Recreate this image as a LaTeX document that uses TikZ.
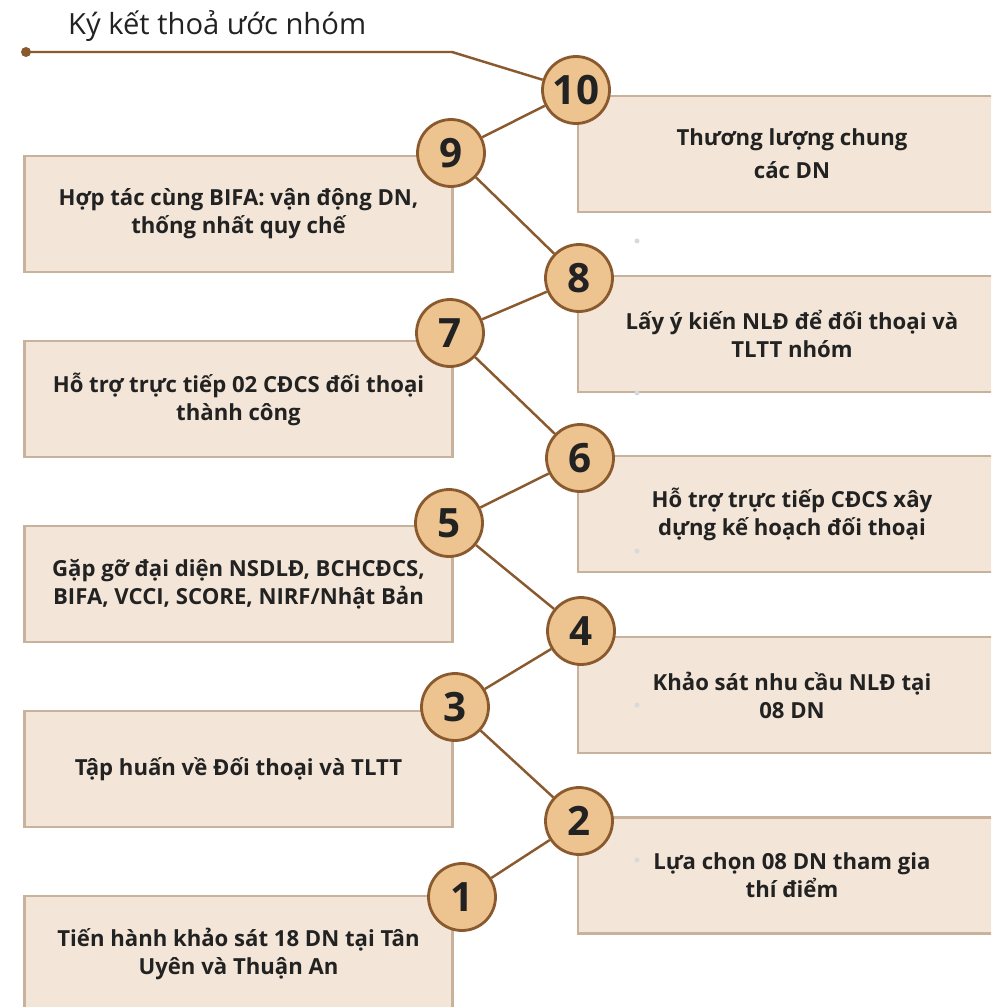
\documentclass[tikz,border=0pt]{standalone}
\usepackage{fontspec}
\setmainfont{Open Sans}
\usepackage{xcolor}
\usetikzlibrary{positioning, arrows.meta, calc}

\definecolor{boxfill}{HTML}{F3E6D8}
\definecolor{boxline}{HTML}{C9B29C}
\definecolor{stepfill}{HTML}{EDC38F}
\definecolor{brownline}{HTML}{8A5A2E}
\definecolor{textdark}{HTML}{222222}

\tikzset{
    % hộp nội dung
    box/.style={
        rectangle,
        draw=boxline,
        fill=boxfill,
        line width=1.6pt,
        minimum width=8.56cm,
        minimum height=2.32cm,
        align=center,
        text=textdark,
        font=\bfseries\fontsize{12.6}{15.9}\selectfont
    },
    % vòng tròn số thứ tự
    num/.style={
        circle,
        draw=brownline,
        fill=stepfill,
        line width=1.6pt,
        minimum size=1.34cm,
        inner sep=0pt,
        text=textdark,
        font=\bfseries\fontsize{23}{23}\selectfont
    },
    % đường nối
    link/.style={
        draw=brownline,
        line width=1.4pt
    }
}

\begin{document}
\begin{tikzpicture}[x=0.02cm, y=-0.02cm]
    \clip (0,0) rectangle (991,1007);
    \fill[white] (0,0) rectangle (991,1007);

    % Boxes
    \node[box] (b9) at (238.5,214) {Hợp tác cùng BIFA: vận động DN,\\thống nhất quy chế};
    \node[box] (b7) at (238.5,399) {Hỗ trợ trực tiếp 02 CĐCS đối thoại\\thành công};
    \node[box] (b5) at (238.5,584) {Gặp gỡ đại diện NSDLĐ, BCHCĐCS,\\BIFA, VCCI, SCORE, NIRF/Nhật Bản};
    \node[box] (b3) at (238.5,769) {Tập huấn về Đối thoại và TLTT};
    \node[box] (b1) at (238.5,954) {Tiến hành khảo sát 18 DN tại Tân\\Uyên và Thuận An};

    \node[box] (b10) at (792,154) {Thương lượng chung\\[0.1cm]các DN};
    \node[box] (b8) at (792,334) {Lấy ý kiến NLĐ để đối thoại và\\TLTT nhóm};
    \node[box] (b6) at (792,514) {Hỗ trợ trực tiếp CĐCS xây\\dựng kế hoạch đối thoại};
    \node[box] (b4) at (792,695) {Khảo sát nhu cầu NLĐ tại\\08 DN};
    \node[box] (b2) at (792,875.5) {Lựa chọn 08 DN tham gia\\thí điểm};

    % Small dots
    \foreach \y in {241,393,551,705,860}
        \fill[black!15] (637,\y) circle (0.05cm);

    % Title
    \node[anchor=west, text=textdark, font=\fontsize{16.6}{16.6}\selectfont] (title) at (62,26) {Ký kết thoả ước nhóm};
    \coordinate (start) at (26,52);
    \coordinate (bend) at (452,52);

    % Circles
    \node[num] (c10) at (576,90) {10};
    \node[num] (c9) at (451,153) {9};
    \node[num] (c8) at (579,278) {8};
    \node[num] (c7) at (450,333) {7};
    \node[num] (c6) at (580,458) {6};
    \node[num] (c5) at (449,523) {5};
    \node[num] (c4) at (581,631) {4};
    \node[num] (c3) at (455,707) {3};
    \node[num] (c2) at (579,821) {2};
    \node[num] (c1) at (462,897) {1};

    % Links
    \draw[link] (start) -- (bend) -- (c10);
    \fill[brownline] (start) circle (0.1cm);
    \draw[link] (c10) -- (c9);
    \draw[link] (c9) -- (c8);
    \draw[link] (c8) -- (c7);
    \draw[link] (c7) -- (c6);
    \draw[link] (c6) -- (c5);
    \draw[link] (c5) -- (c4);
    \draw[link] (c4) -- (c3);
    \draw[link] (c3) -- (c2);
    \draw[link] (c2) -- (c1);

\end{tikzpicture}
\end{document}
